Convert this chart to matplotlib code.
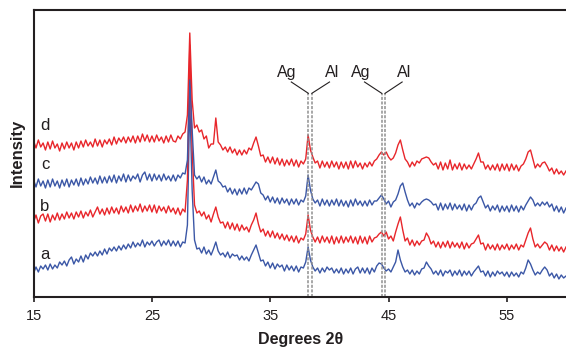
import numpy as np
import matplotlib
matplotlib.use("Agg")
import matplotlib.pyplot as plt

plt.rcParams['font.family'] = ['Liberation Sans', 'DejaVu Sans']

# scan grid, degrees 2-theta (0.2 deg step)
two_theta = np.round(np.arange(15.0, 60.01, 0.2), 1)

# intensities (arbitrary units, already offset per trace)
trace_a = [
    27, 33, 28, 34, 31, 35, 30, 36, 31, 35,
    32, 38, 35, 39, 34, 40, 43, 36, 41, 38,
    44, 38, 45, 41, 47, 44, 48, 44, 49, 45,
    51, 46, 52, 49, 53, 49, 54, 50, 55, 51,
    56, 52, 58, 53, 57, 54, 60, 53, 58, 55,
    59, 54, 58, 60, 54, 59, 55, 60, 54, 59,
    54, 59, 53, 58, 57, 75, 200, 110, 60, 51,
    52, 47, 53, 46, 50, 45, 51, 58, 49, 45,
    47, 43, 48, 42, 46, 44, 45, 40, 44, 40,
    43, 39, 45, 50, 55, 47, 39, 40, 34, 38,
    32, 37, 31, 36, 33, 35, 29, 35, 30, 34,
    29, 34, 28, 33, 32, 38, 53, 40, 33, 29,
    32, 27, 32, 28, 33, 30, 32, 27, 31, 27,
    32, 26, 31, 27, 32, 26, 31, 33, 27, 32,
    27, 32, 26, 32, 28, 34, 37, 36, 32, 29,
    31, 28, 33, 38, 50, 40, 33, 28, 30, 26,
    30, 25, 29, 26, 31, 32, 38, 34, 31, 26,
    29, 25, 30, 24, 29, 27, 30, 24, 29, 25,
    30, 24, 29, 25, 29, 24, 28, 31, 34, 28,
    29, 24, 29, 23, 28, 24, 29, 26, 28, 24,
    28, 23, 28, 24, 27, 23, 28, 26, 32, 40,
    36, 30, 25, 28, 26, 30, 33, 30, 24, 27,
    22, 26, 21, 25, 22, 24,
]

trace_b = [
    78, 85, 77, 84, 86, 79, 86, 78, 85, 80,
    87, 80, 86, 81, 88, 82, 87, 81, 88, 83,
    89, 82, 88, 84, 90, 83, 88, 93, 86, 91,
    85, 92, 86, 93, 87, 92, 86, 94, 88, 93,
    87, 95, 88, 94, 89, 96, 88, 94, 89, 95,
    88, 95, 87, 94, 89, 93, 87, 94, 88, 92,
    86, 92, 85, 91, 88, 120, 255, 150, 95, 87,
    89, 84, 88, 81, 85, 78, 86, 93, 83, 77,
    78, 72, 78, 71, 77, 70, 76, 69, 75, 70,
    73, 68, 75, 80, 87, 76, 68, 71, 64, 69,
    63, 69, 62, 67, 61, 66, 60, 65, 59, 64,
    58, 64, 57, 62, 60, 66, 85, 70, 63, 58,
    63, 57, 64, 58, 63, 57, 64, 56, 63, 57,
    64, 57, 63, 58, 64, 57, 63, 56, 64, 57,
    63, 56, 64, 58, 62, 63, 66, 68, 64, 68,
    61, 64, 59, 68, 76, 83, 70, 59, 62, 55,
    60, 54, 59, 55, 59, 60, 67, 63, 56, 59,
    53, 58, 52, 58, 53, 59, 52, 58, 53, 57,
    52, 58, 51, 57, 52, 56, 57, 61, 65, 56,
    57, 50, 56, 51, 55, 50, 56, 50, 55, 51,
    56, 50, 55, 51, 56, 50, 55, 53, 60, 67,
    72, 61, 53, 56, 52, 55, 58, 56, 50, 55,
    49, 54, 49, 53, 48, 53,
]

trace_c = [
    120, 113, 121, 114, 119, 112, 120, 113, 121, 114,
    119, 112, 120, 114, 121, 113, 120, 115, 121, 114,
    122, 115, 121, 116, 123, 117, 122, 116, 124, 117,
    123, 117, 124, 118, 125, 117, 124, 119, 126, 118,
    125, 119, 124, 121, 126, 118, 125, 128, 120, 126,
    119, 126, 120, 125, 119, 126, 120, 124, 119, 125,
    119, 125, 122, 127, 126, 140, 220, 170, 125, 121,
    124, 118, 123, 116, 120, 116, 123, 130, 119, 117,
    113, 114, 108, 112, 106, 111, 105, 111, 106, 112,
    106, 112, 110, 114, 118, 116, 107, 105, 100, 104,
    98, 103, 97, 102, 96, 102, 97, 101, 95, 101,
    96, 101, 95, 100, 98, 104, 125, 110, 101, 97,
    100, 94, 101, 95, 100, 94, 100, 95, 101, 94,
    100, 94, 99, 93, 100, 94, 101, 95, 99, 94,
    99, 94, 100, 95, 99, 99, 102, 105, 101, 96,
    99, 93, 98, 100, 106, 114, 117, 108, 100, 94,
    97, 92, 97, 95, 98, 100, 101, 100, 98, 95,
    96, 90, 97, 90, 96, 91, 97, 90, 96, 91,
    95, 90, 96, 89, 95, 90, 95, 97, 102, 104,
    98, 92, 95, 89, 94, 90, 95, 88, 94, 89,
    94, 88, 95, 89, 94, 88, 94, 90, 95, 99,
    103, 100, 94, 97, 94, 98, 95, 98, 93, 96,
    89, 94, 88, 93, 87, 92,
]

trace_d = [
    159, 152, 160, 153, 157, 150, 158, 151, 159, 152,
    156, 149, 157, 151, 158, 152, 157, 150, 158, 152,
    159, 153, 160, 154, 158, 153, 161, 154, 160, 153,
    160, 156, 161, 155, 163, 156, 162, 158, 163, 157,
    163, 158, 164, 157, 164, 158, 166, 159, 165, 158,
    164, 158, 165, 159, 163, 157, 164, 158, 165, 159,
    158, 164, 161, 166, 168, 185, 267, 200, 172, 175,
    168, 170, 161, 164, 152, 156, 156, 182, 158, 155,
    150, 153, 148, 153, 147, 151, 145, 150, 145, 150,
    146, 152, 150, 157, 163, 154, 144, 145, 138, 143,
    137, 143, 136, 142, 135, 141, 134, 140, 135, 141,
    134, 140, 133, 139, 136, 141, 165, 150, 143, 137,
    139, 132, 139, 133, 138, 132, 139, 133, 138, 131,
    138, 132, 138, 131, 139, 132, 139, 133, 137, 131,
    137, 133, 138, 134, 139, 141, 145, 148, 145, 148,
    143, 140, 142, 147, 155, 160, 150, 141, 138, 133,
    138, 134, 139, 137, 141, 142, 143, 142, 138, 135,
    137, 131, 138, 130, 137, 131, 140, 130, 136, 131,
    137, 130, 136, 131, 135, 131, 136, 141, 147, 138,
    138, 131, 135, 130, 135, 130, 136, 129, 136, 130,
    136, 129, 136, 130, 135, 129, 134, 136, 141, 148,
    150, 141, 132, 136, 133, 137, 138, 134, 129, 132,
    126, 131, 126, 129, 125, 129,
]

trace_names = ['a', 'b', 'c', 'd']
trace_label_y = [41, 89, 131, 170]

# reference lines: Ag(111), Al(111), Ag(200), Al(200)
ref_lines = [38.22, 38.52, 44.42, 44.71]
ref_names = ['Ag', 'Al', 'Ag', 'Al']
ref_text_x = [36.38, 40.27, 42.64, 46.35]
ref_arm_x = [36.78, 40.01, 42.97, 46.15]

red = '#e8262b'
blue = '#3b57a6'
ink = '#231f20'

fig = plt.figure(figsize=(5.66, 3.48), dpi=100)
ax = fig.add_axes([0.0594, 0.1474, 0.9406, 0.8239])

for ys, col in zip([trace_a, trace_b, trace_c, trace_d], [blue, red, blue, red]):
    ax.plot(two_theta, ys, color=col, lw=1.0)

for name, yv in zip(trace_names, trace_label_y):
    ax.text(15.96, yv, name, fontsize=12, color=ink, ha='center', va='baseline')

top = 206.7
for xv in ref_lines:
    ax.plot([xv, xv], [3.3, top], color='#8f8f8f', lw=1.1, ls=(0, (2, 1)))
for xv, ax_x, tx, nm in zip(ref_lines, ref_arm_x, ref_text_x, ref_names):
    ax.plot([xv, ax_x], [top, 218.0], color=ink, lw=0.8)
    ax.text(tx, 223.3, nm, fontsize=11.5, color=ink, ha='center', va='baseline')

ax.set_xlim(15, 60)
ax.set_ylim(3.3, 290)
ax.set_xticks([15, 25, 35, 45, 55])
ax.set_yticks([])
ax.tick_params(axis='x', direction='out', length=3.6, width=1.2, pad=5,
               labelsize=10.5, colors=ink)
ax.spines['right'].set_visible(False)
for s in ['left', 'bottom', 'top']:
    ax.spines[s].set_linewidth(1.5)
    ax.spines[s].set_color(ink)

fig.text(301 / 566, 0.002, 'Degrees 2\u03b8', fontsize=11.5, fontweight='bold',
         color=ink, ha='center', va='bottom')
fig.text(17 / 566, 1 - 152.5 / 348, 'Intensity', fontsize=12, fontweight='bold',
         color=ink, ha='center', va='center', rotation=90)

fig.savefig('out.png', dpi=100)
